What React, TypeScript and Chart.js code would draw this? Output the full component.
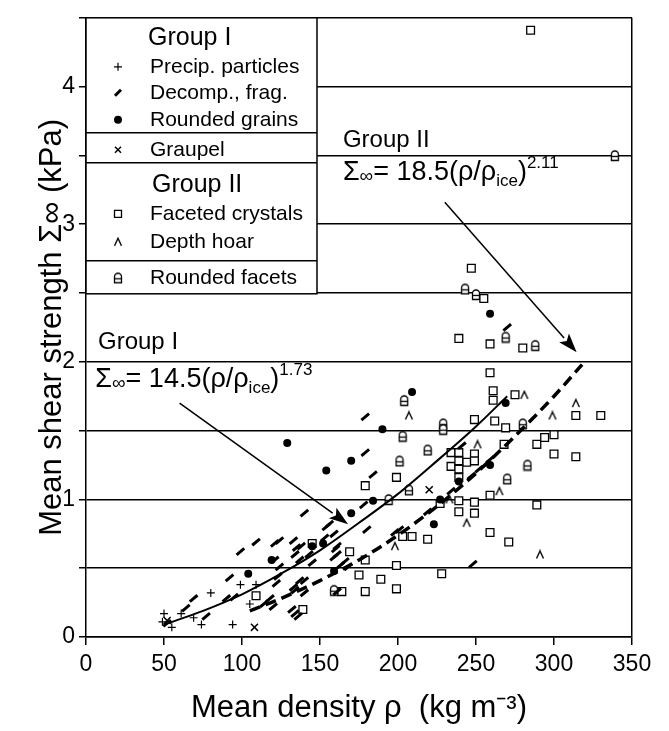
import React, { useEffect, useRef } from 'react';
import { Chart, registerables } from 'chart.js';
Chart.register(...registerables);

const FONT = '"Liberation Sans", Arial, Helvetica, sans-serif';

// ---- data (density kg m^-3, shear strength kPa) ----
const precipParticles: [number, number][] = [
  [50, 0.17], [49, 0.11], [55, 0.07], [61, 0.17], [69, 0.14], [74, 0.09],
  [80, 0.32], [94, 0.09], [99, 0.38], [105, 0.24], [109, 0.38],
];
const decompFrag: [number, number][] = [
  [52, 0.1], [64, 0.21], [69, 0.28], [77, 0.15], [90, 0.28], [92, 0.43], [95, 0.29],
  [99, 0.62], [109, 0.69], [114, 0.24], [118, 0.28], [120, 0.22], [121, 0.68],
  [124, 0.7], [133, 0.7], [135, 0.65], [134, 0.6], [121, 0.56], [124, 0.51],
  [123, 0.44], [122, 0.39], [137, 0.41], [134, 0.34], [140, 0.32], [133, 0.36],
  [134, 0.17], [136, 0.15], [132, 0.2], [140, 0.9], [154, 0.8], [153, 0.72],
  [159, 0.75], [160, 0.64], [159, 0.58], [156, 0.82], [143, 0.6], [145, 0.54],
  [137, 0.56], [138, 0.66], [161, 0.66], [161, 0.6], [166, 0.55], [168, 0.51],
  [163, 0.52], [161, 0.33], [140, 0.41], [180, 0.78], [178, 0.96], [184, 1.18],
  [198, 0.76], [201, 0.78], [179, 1.6], [179, 1.34], [219, 0.91], [234, 1.06],
  [241, 1.39], [252, 1.22], [259, 1.29], [247, 1.17], [248, 0.53], [270, 2.25],
];
const roundedGrains: [number, number][] = [
  [104, 0.46], [129, 1.41], [154, 1.21], [170, 1.28], [170, 0.9], [159, 0.48],
  [184, 0.99], [152, 0.68], [145, 0.66], [119, 0.56], [209, 1.78], [190, 1.51],
  [223, 0.82], [227, 1.0], [269, 1.7], [259, 1.25], [259, 2.35], [239, 1.13],
];
const graupel: [number, number][] = [[52, 0.12], [108, 0.07], [220, 1.07]];
const facetedCrystals: [number, number][] = [
  [285, 4.41], [247, 2.68], [255, 2.46], [239, 2.17], [259, 2.13], [280, 2.1],
  [259, 1.92], [261, 1.79], [275, 1.76], [261, 1.72], [314, 1.61], [330, 1.61],
  [249, 1.58], [262, 1.57], [269, 1.52], [268, 1.4], [289, 1.4], [294, 1.45],
  [300, 1.47], [300, 1.33], [314, 1.31], [259, 1.03], [289, 0.96], [249, 0.98],
  [249, 0.9], [259, 0.76], [271, 0.69], [249, 1.33], [244, 1.27], [249, 1.28],
  [234, 1.34], [239, 1.34], [234, 1.24], [239, 1.28], [239, 1.22], [239, 1.16],
  [199, 1.16], [179, 1.1], [227, 0.97], [239, 0.99], [239, 0.91], [203, 0.73],
  [209, 0.73], [219, 0.71], [169, 0.62], [179, 0.56], [199, 0.52], [228, 0.46],
  [175, 0.45], [189, 0.42], [179, 0.33], [199, 0.35], [164, 0.33], [145, 0.68],
  [109, 0.3], [139, 0.2],
];
const roundedFacets: [number, number][] = [
  [339, 3.5], [243, 2.53], [250, 2.49], [269, 2.18], [288, 2.12], [204, 1.72],
  [229, 1.55], [229, 1.51], [203, 1.46], [219, 1.36], [201, 1.28], [207, 1.07],
  [194, 1.0], [280, 1.55], [283, 1.25], [270, 1.15], [159, 0.34],
];
const depthHoar: [number, number][] = [
  [207, 1.61], [251, 1.4], [233, 1.0], [198, 0.66], [244, 0.83], [265, 1.06],
  [291, 0.6], [299, 1.61], [314, 1.7], [281, 1.76],
];

// fitted curves
const groupIFitDensity = [50, 75, 100, 125, 150, 175, 200, 225, 250, 270];
const groupIFitStrength = [0.09, 0.19, 0.31, 0.46, 0.63, 0.83, 1.04, 1.28, 1.53, 1.75];
const groupIIFitDensity = [105, 125, 150, 175, 200, 225, 250, 275, 300, 318];
const groupIIFitStrength = [0.19, 0.28, 0.41, 0.56, 0.74, 0.95, 1.19, 1.46, 1.75, 1.98];

// annotation arrows: [start, tip]
const groupIArrow: [number, number][] = [[60, 1.7], [168, 0.82]];
const groupIIArrow: [number, number][] = [[230, 3.16], [314.5, 2.07]];

const xTickStep = 50;
const yTickStep = 0.5;
const legendHeaders = ['Group I', 'Group II'];
const legendLabels = [
  'Precip. particles', 'Decomp., frag.', 'Rounded grains', 'Graupel',
  'Faceted crystals', 'Depth hoar', 'Rounded facets',
];

const pts = (a: [number, number][]) => a.map(([x, y]) => ({ x, y }));
const curve = (xs: number[], ys: number[]) => xs.map((x, i) => ({ x, y: ys[i] }));

function makeCaret() {
  const c = document.createElement('canvas');
  c.width = 10; c.height = 10;
  const g = c.getContext('2d')!;
  g.strokeStyle = '#000'; g.lineWidth = 1.4;
  g.beginPath(); g.moveTo(1.5, 9); g.lineTo(5, 1.5); g.lineTo(8.5, 9); g.stroke();
  return c;
}
function makeFacet() {
  const c = document.createElement('canvas');
  c.width = 10; c.height = 13;
  const g = c.getContext('2d')!;
  g.strokeStyle = '#000'; g.lineWidth = 1.3; g.fillStyle = '#fff';
  g.beginPath();
  g.moveTo(1.5, 11.5); g.lineTo(1.5, 5.5); g.arc(5, 5.5, 3.5, Math.PI, 0); g.lineTo(8.5, 11.5); g.closePath();
  g.fill(); g.stroke();
  g.beginPath(); g.moveTo(1.5, 7.5); g.lineTo(8.5, 7.5); g.stroke();
  return c;
}

function drawArrow(ctx: CanvasRenderingContext2D, x1: number, y1: number, x2: number, y2: number) {
  const ang = Math.atan2(y2 - y1, x2 - x1);
  const hl = 19, hw = 6.5;
  const bx = x2 - hl * Math.cos(ang), by = y2 - hl * Math.sin(ang);
  ctx.strokeStyle = '#000'; ctx.lineWidth = 1.5;
  ctx.beginPath(); ctx.moveTo(x1, y1); ctx.lineTo(bx, by); ctx.stroke();
  ctx.fillStyle = '#000';
  ctx.beginPath();
  ctx.moveTo(x2, y2);
  ctx.lineTo(bx + hw * Math.sin(ang), by - hw * Math.cos(ang));
  ctx.lineTo(bx + 4 * Math.cos(ang), by + 4 * Math.sin(ang));
  ctx.lineTo(bx - hw * Math.sin(ang), by + hw * Math.cos(ang));
  ctx.closePath(); ctx.fill();
}

function drawFormula(ctx: CanvasRenderingContext2D, x: number, y: number, coef: string, exp: string) {
  ctx.fillStyle = '#000';
  ctx.textBaseline = 'alphabetic';
  ctx.textAlign = 'left';
  const main = `27px ${FONT}`;
  const small = `17px ${FONT}`;
  const seg = (t: string, f: string, dy: number) => {
    ctx.font = f; ctx.fillText(t, x, y + dy); x += ctx.measureText(t).width;
  };
  seg('Σ', main, 0);
  seg('∞', `19px ${FONT}`, 2);
  seg(`= ${coef}(ρ/ρ`, main, 0);
  seg('ice', small, 6);
  seg(')', main, 0);
  seg(exp, small, -12);
}

function drawMarker(ctx: CanvasRenderingContext2D, kind: number, x: number, y: number, imgs: HTMLCanvasElement[]) {
  ctx.strokeStyle = '#000'; ctx.fillStyle = '#000';
  ctx.beginPath();
  if (kind === 0) { ctx.lineWidth = 1.2; ctx.moveTo(x - 4, y); ctx.lineTo(x + 4, y); ctx.moveTo(x, y - 4); ctx.lineTo(x, y + 4); ctx.stroke(); }
  else if (kind === 1) { ctx.lineWidth = 3; ctx.moveTo(x - 3, y + 3); ctx.lineTo(x + 3, y - 3); ctx.stroke(); }
  else if (kind === 2) { ctx.arc(x, y, 4, 0, Math.PI * 2); ctx.fill(); }
  else if (kind === 3) { ctx.lineWidth = 1.5; ctx.moveTo(x - 3, y - 3); ctx.lineTo(x + 3, y + 3); ctx.moveTo(x + 3, y - 3); ctx.lineTo(x - 3, y + 3); ctx.stroke(); }
  else if (kind === 4) { ctx.lineWidth = 1.3; ctx.fillStyle = '#fff'; ctx.rect(x - 3.5, y - 3.5, 7, 7); ctx.fill(); ctx.stroke(); }
  else if (kind === 5) { ctx.drawImage(imgs[0], x - 5, y - 5); }
  else if (kind === 6) { ctx.drawImage(imgs[1], x - 5, y - 6.5); }
}

export default function App() {
  const ref = useRef<HTMLCanvasElement | null>(null);
  useEffect(() => {
    document.body.style.margin = '0';
    const caret = makeCaret();
    const facet = makeFacet();
    const overlay = {
      id: 'overlay',
      afterDraw(chart: any) {
        const ctx: CanvasRenderingContext2D = chart.ctx;
        const xs = chart.scales.x, ys = chart.scales.y;
        const px = (v: number) => xs.getPixelForValue(v);
        const py = (v: number) => ys.getPixelForValue(v);
        ctx.save();
        drawArrow(ctx, px(groupIArrow[0][0]), py(groupIArrow[0][1]), px(groupIArrow[1][0]), py(groupIArrow[1][1]));
        drawArrow(ctx, px(groupIIArrow[0][0]), py(groupIIArrow[0][1]), px(groupIIArrow[1][0]), py(groupIIArrow[1][1]));

        ctx.fillStyle = '#000'; ctx.textAlign = 'left'; ctx.textBaseline = 'alphabetic';
        ctx.font = `24px ${FONT}`;
        ctx.fillText(legendHeaders[0], px(7.7), py(2.09));
        drawFormula(ctx, px(6), py(1.82), '14.5', '1.73');
        ctx.font = `24px ${FONT}`;
        ctx.fillText(legendHeaders[1], px(164.7), py(3.56));
        drawFormula(ctx, px(164.7), py(3.32), '18.5', '2.11');

        // legend box
        const { left, top } = chart.chartArea;
        const w = 231, h = 276;
        ctx.fillStyle = '#fff';
        ctx.fillRect(left, top, w, h);
        ctx.strokeStyle = '#000'; ctx.lineWidth = 1.5;
        ctx.strokeRect(left, top, w, h);
        [115, 145, 243].forEach((d) => {
          ctx.beginPath(); ctx.moveTo(left, top + d); ctx.lineTo(left + w, top + d); ctx.stroke();
        });
        ctx.fillStyle = '#000';
        ctx.font = `25px ${FONT}`;
        ctx.textBaseline = 'alphabetic';
        ctx.fillText(legendHeaders[0], left + 62, top + 27);
        ctx.fillText(legendHeaders[1], left + 66, top + 174);
        const rows = [49, 75, 102, 132, 196, 224, 260];
        ctx.font = `21px ${FONT}`;
        rows.forEach((r, i) => {
          ctx.fillStyle = '#000';
          ctx.textBaseline = 'middle';
          ctx.font = `21px ${FONT}`;
          ctx.fillText(legendLabels[i], left + 64, top + r);
          drawMarker(ctx, i, left + 32, top + r, [caret, facet]);
        });
        ctx.restore();
      },
    };

    const chart = new Chart(ref.current!, {
      type: 'scatter',
      data: {
        datasets: [
          { type: 'line', data: curve(groupIFitDensity, groupIFitStrength), borderColor: '#000', borderWidth: 2, pointRadius: 0, fill: false, cubicInterpolationMode: 'monotone' } as any,
          { type: 'line', data: curve(groupIIFitDensity, groupIIFitStrength), borderColor: '#000', borderWidth: 3.5, borderDash: [11, 6], pointRadius: 0, fill: false, cubicInterpolationMode: 'monotone' } as any,
          { data: pts(precipParticles), pointStyle: 'cross', pointRadius: 4, pointBorderWidth: 1.2, pointBorderColor: '#000' },
          { data: pts(decompFrag), pointStyle: 'line', pointRotation: -40, pointRadius: 5, pointBorderWidth: 3, pointBorderColor: '#000' },
          { data: pts(roundedGrains), pointStyle: 'circle', pointRadius: 4, pointBorderWidth: 0, pointBackgroundColor: '#000', pointBorderColor: '#000' },
          { data: pts(graupel), pointStyle: 'crossRot', pointRadius: 5, pointBorderWidth: 1.5, pointBorderColor: '#000' },
          { data: pts(facetedCrystals), pointStyle: 'rect', pointRadius: 5.5, pointBorderWidth: 1.3, pointBackgroundColor: '#fff', pointBorderColor: '#000' },
          { data: pts(depthHoar), pointStyle: caret, pointRadius: 5 },
          { data: pts(roundedFacets), pointStyle: facet, pointRadius: 5 },
        ] as any,
      },
      options: {
        responsive: false,
        animation: false,
        layout: { padding: { left: 30, top: 13, right: 37, bottom: 0 } },
        plugins: { legend: { display: false }, tooltip: { enabled: false } },
        scales: {
          x: {
            type: 'linear', min: 0, max: 350,
            ticks: { stepSize: xTickStep, color: '#000', font: { family: FONT, size: 23 }, padding: 6, maxRotation: 0 },
            grid: {
              color: (c: any) => (c.tick && c.tick.value === 350 ? '#000' : 'rgba(0,0,0,0)'),
              lineWidth: 1.5, tickColor: '#000', tickLength: 8, tickWidth: 1.5,
            },
            border: { display: true, color: '#000', width: 1.5 },
            title: { display: true, text: 'Mean density ρ  (kg m⁻³)', color: '#000', font: { family: FONT, size: 31 }, padding: { top: 4, bottom: 4 } },
            afterFit: (s: any) => { s.height = 94; },
          },
          y: {
            type: 'linear', min: 0, max: 4.5,
            ticks: {
              stepSize: yTickStep, color: '#000', font: { family: FONT, size: 23 }, padding: 4,
              callback: (v: any) => (Number.isInteger(v) ? String(v) : ''),
            },
            grid: { color: '#000', lineWidth: 1.5, tickColor: '#000', tickLength: 7, tickWidth: 1.5 },
            border: { display: true, color: '#000', width: 1.5 },
            title: { display: true, text: 'Mean shear strength Σ∞ (kPa)', color: '#000', font: { family: FONT, size: 31 }, padding: { top: 4, bottom: 4 } },
            afterFit: (s: any) => { s.width = 56; },
          },
        },
      } as any,
      plugins: [overlay],
    });
    return () => chart.destroy();
  }, []);
  return (
    <div style={{ width: 669, height: 731 }}>
      <canvas ref={ref} width={669} height={731} style={{ display: 'block' }} />
    </div>
  );
}
